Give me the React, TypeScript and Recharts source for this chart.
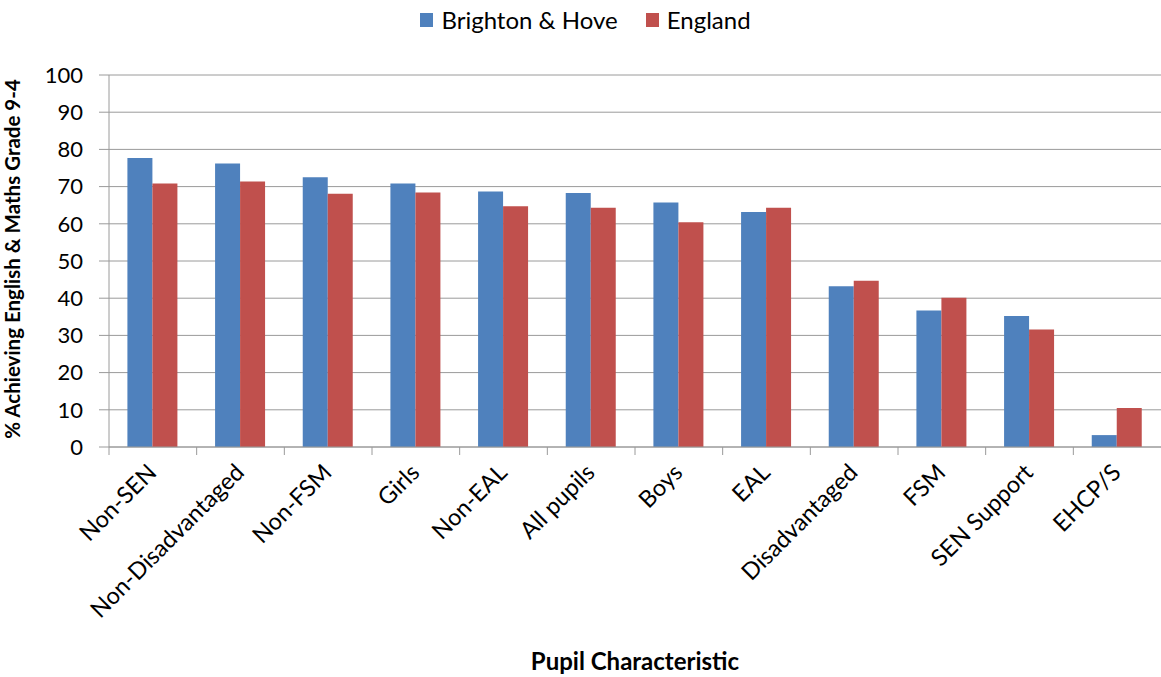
import React from 'react';
import { BarChart, Bar, XAxis, YAxis, CartesianGrid, Legend, Label } from 'recharts';

const categories = ['Non-SEN', 'Non-Disadvantaged', 'Non-FSM', 'Girls', 'Non-EAL', 'All pupils', 'Boys', 'EAL', 'Disadvantaged', 'FSM', 'SEN Support', 'EHCP/S'];
const brighton = [77.7, 76.2, 72.5, 70.8, 68.7, 68.3, 65.7, 63.2, 43.2, 36.7, 35.2, 3.2];
const england = [70.8, 71.4, 68.1, 68.4, 64.7, 64.3, 60.4, 64.3, 44.7, 40.1, 31.6, 10.5];
const yTicks = [0, 10, 20, 30, 40, 50, 60, 70, 80, 90, 100];

const data = categories.map((c, i) => ({ name: c, brighton: brighton[i], england: england[i] }));

const W = 1161;
const H = 677;
const MARGIN = { top: 75, right: 0, bottom: 0, left: 0 };
const Y_W = 109;
const X_H = 230;
const FONT = 'Lato, "Open Sans", sans-serif';
const GRID = '#9a9a9a';
const BAND = (W - MARGIN.left - MARGIN.right - Y_W) / categories.length;

const XTick = (props: any) => {
  const { x, y, payload } = props;
  const ax = x + 5;
  const ay = y + 19;
  return (
    <g>
      <line x1={x - BAND / 2} x2={x - BAND / 2} y1={y - 8} y2={y} stroke={GRID} strokeWidth={1} />
      <text
        x={ax}
        y={ay}
        textAnchor="end"
        transform={`rotate(-45, ${ax}, ${ay})`}
        fontFamily={FONT}
        fontSize={23.5}
        fill="#000"
      >
        {payload.value}
      </text>
    </g>
  );
};

const LegendContent = (props: any) => {
  const { payload } = props;
  return (
    <div style={{ display: 'flex', justifyContent: 'center', paddingLeft: 10, fontFamily: FONT, fontSize: 24, color: '#000' }}>
      {payload.map((p: any) => (
        <div key={p.value} style={{ display: 'flex', alignItems: 'center', margin: '0 14px' }}>
          <span style={{ display: 'inline-block', width: 13, height: 14, background: p.color, marginRight: 8 }} />
          <span>{p.value}</span>
        </div>
      ))}
    </div>
  );
};

export default function App() {
  return (
    <div style={{ position: 'absolute', left: 0, top: 0, width: W, height: H, background: '#fff' }}>
      <BarChart width={W} height={H} data={data} margin={MARGIN} barCategoryGap="21%" barGap={0}>
        <CartesianGrid vertical={false} stroke={GRID} strokeWidth={1} />
        <XAxis
          dataKey="name"
          height={X_H}
          interval={0}
          tickLine={false}
          tickSize={6}
          tickMargin={2}
          axisLine={{ stroke: GRID }}
          tick={<XTick />}
        >
          <Label
            content={(p: any) => {
              const vb = p.viewBox;
              return (
                <text x={vb.x + vb.width / 2} y={vb.y + 223} textAnchor="middle" fontFamily={FONT} fontWeight="bold" fontSize={24} fill="#000">
                  Pupil Characteristic
                </text>
              );
            }}
          />
        </XAxis>
        <YAxis
          width={Y_W}
          domain={[0, 100]}
          ticks={yTicks}
          interval={0}
          tickSize={10}
          tickMargin={16}
          tickLine={{ stroke: GRID }}
          axisLine={{ stroke: GRID }}
          tick={{ fontFamily: FONT, fontSize: 22, fill: '#000' }}
        >
          <Label
            content={(p: any) => {
              const vb = p.viewBox;
              const cx = 20;
              const cy = vb.y + vb.height / 2 - 2;
              return (
                <text x={cx} y={cy} textAnchor="middle" transform={`rotate(-90, ${cx}, ${cy})`} fontFamily={FONT} fontWeight="bold" fontSize={20.5} fill="#000">
                  % Achieving English &amp; Maths Grade 9-4
                </text>
              );
            }}
          />
        </YAxis>
        <Legend
          verticalAlign="middle"
          align="center"
          layout="horizontal"
          wrapperStyle={{ top: 5, left: 0, width: W }}
          content={<LegendContent />}
        />
        <Bar dataKey="brighton" name="Brighton & Hove" fill="#4F81BD" isAnimationActive={false} />
        <Bar dataKey="england" name="England" fill="#C0504D" isAnimationActive={false} />
      </BarChart>
    </div>
  );
}
